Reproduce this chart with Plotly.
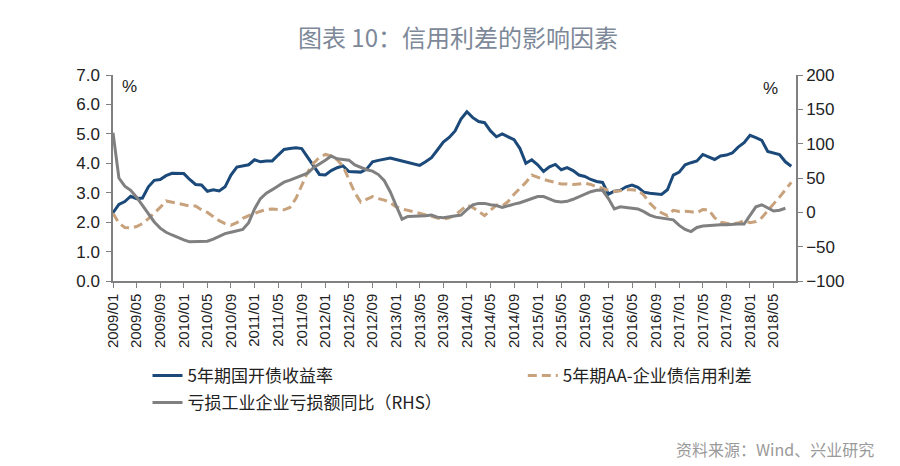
import plotly.graph_objects as go

# Monthly categories 2009/01 .. 2018/08
months = [f"{y}/{m:02d}" for y in range(2009, 2019) for m in range(1, 13)][:116]
tick_labels = [months[i] for i in range(0, 116, 4)]

cdb_5y = [2.32, 2.60, 2.70, 2.88, 2.80, 2.82, 3.20, 3.42, 3.45, 3.58,
          3.66, 3.66, 3.65, 3.45, 3.28, 3.26, 3.05, 3.10, 3.06, 3.20,
          3.60, 3.87, 3.90, 3.95, 4.12, 4.05, 4.08, 4.08, 4.28, 4.47,
          4.50, 4.53, 4.50, 4.20, 3.90, 3.62, 3.60, 3.75, 3.85, 3.91,
          3.72, 3.70, 3.70, 3.80, 4.05, 4.10, 4.13, 4.18, 4.13, 4.08,
          4.04, 3.98, 3.93, 4.05, 4.19, 4.45, 4.72, 4.88, 5.10, 5.50,
          5.75, 5.55, 5.42, 5.38, 5.10, 4.90, 5.00, 4.90, 4.80, 4.50,
          4.00, 4.12, 3.95, 3.72, 3.88, 3.96, 3.78, 3.85, 3.75, 3.60,
          3.55, 3.45, 3.38, 3.35, 2.95, 3.05, 3.08, 3.20, 3.26, 3.18,
          3.02, 2.98, 2.97, 2.94, 3.10, 3.60, 3.70, 3.95, 4.02, 4.08,
          4.30, 4.22, 4.13, 4.25, 4.28, 4.35, 4.55, 4.70, 4.95, 4.87,
          4.78, 4.40, 4.36, 4.30, 4.05, 3.90]

aa_spread = [2.30, 1.97, 1.82, 1.80, 1.85, 1.95, 2.12, 2.30, 2.50, 2.72,
             2.68, 2.65, 2.60, 2.55, 2.55, 2.42, 2.33, 2.18, 2.05, 1.95,
             1.90, 1.98, 2.13, 2.22, 2.30, 2.37, 2.43, 2.45, 2.43, 2.42,
             2.50, 2.80, 3.25, 3.70, 4.00, 4.20, 4.30, 4.25, 4.12, 3.90,
             3.45, 3.00, 2.68, 2.78, 2.87, 2.80, 2.75, 2.66, 2.52, 2.45,
             2.40, 2.36, 2.32, 2.27, 2.20, 2.14, 2.10, 2.15, 2.25, 2.40,
             2.58, 2.50, 2.35, 2.22, 2.40, 2.58, 2.55, 2.70, 2.95, 3.15,
             3.35, 3.60, 3.52, 3.45, 3.40, 3.35, 3.30, 3.30, 3.28, 3.30,
             3.32, 3.28, 3.20, 3.15, 3.08, 3.04, 3.07, 3.10, 3.10, 3.08,
             2.92, 2.65, 2.45, 2.32, 2.22, 2.40, 2.36, 2.37, 2.35, 2.32,
             2.43, 2.42, 2.15, 2.00, 1.96, 1.95, 1.97, 2.05, 1.98, 2.02,
             2.15, 2.40, 2.62, 2.85, 3.10, 3.35]

loss_yoy = [116, 50, 38, 32, 22, 10, -2, -14, -23, -29,
            -33, -37, -40, -43, -43, -43, -42, -39, -35, -31,
            -29, -27, -25, -15, 5, 20, 28, 33, 39, 44,
            47, 50, 53, 57, 65, 70, 76, 82, 78, 77,
            76, 69, 65, 62, 60, 55, 46, 30, 10, -10,
            -6, -6, -6, -5, -4, -7, -8, -7, -6, -4,
            4, 11, 13, 13, 11, 10, 7, 10, 12, 14,
            17, 21, 23, 23, 19, 16, 15, 16, 19, 23,
            27, 30, 32, 32, 20, 5, 8, 7, 7, 5,
            1, -4, -7, -8, -10, -11, -19, -25, -28, -22,
            -20, -19, -19, -18, -18, -17, -17, -17, -4, 8,
            11, 6, 2, 3, 6, None]

left_ticks = [0, 1, 2, 3, 4, 5, 6, 7]
left_labels = ["0.0", "1.0", "2.0", "3.0", "4.0", "5.0", "6.0", "7.0"]
right_ticks = [-100, -50, 0, 50, 100, 150, 200]

fig = go.Figure()
fig.add_trace(go.Scatter(x=months, y=cdb_5y, name="5年期国开债收益率", mode="lines",
                         line=dict(color="#1B4A7A", width=3), legend="legend"))
fig.add_trace(go.Scatter(x=months, y=aa_spread, name="5年期AA-企业债信用利差", mode="lines",
                         line=dict(color="#C8A27C", width=3, dash="9px,5px"), legend="legend2"))
fig.add_trace(go.Scatter(x=months, y=loss_yoy, name="亏损工业企业亏损额同比（RHS）", mode="lines",
                         line=dict(color="#808080", width=3), yaxis="y2", legend="legend3"))

axis_font = dict(family="Liberation Sans, Arial, sans-serif", size=17, color="#222")
leg_font = dict(family="Noto Sans CJK SC", size=17, color="#222")
common_leg = dict(xref="container", yref="container", xanchor="left", yanchor="middle",
                  font=leg_font, bgcolor="rgba(0,0,0,0)")
fig.update_layout(
    template="none",
    width=900, height=466,
    paper_bgcolor="white", plot_bgcolor="white",
    margin=dict(l=105, r=112, t=67, b=193, autoexpand=False),
    title=dict(text="图表 10：信用利差的影响因素", x=0.5, xanchor="center", y=1 - 31 / 466,
               yanchor="middle", xref="container", yref="container",
               font=dict(family="Noto Sans CJK SC", size=24, color="#7D8898")),
    xaxis=dict(type="category", range=[0, 115.8], tickmode="array", tickvals=tick_labels,
               ticktext=tick_labels, tickangle=-90, ticks="outside", ticklen=5,
               tickcolor="#808080", showline=True, linecolor="#808080", linewidth=1.5,
               showgrid=False, zeroline=False, automargin=False,
               tickfont=dict(family="Liberation Sans, Arial, sans-serif", size=15, color="#222")),
    yaxis=dict(range=[0, 7], tickvals=left_ticks, ticktext=left_labels, ticks="outside", ticklen=5,
               tickcolor="#808080", showline=True, linecolor="#808080", linewidth=1.5,
               showgrid=False, zeroline=False, tickfont=axis_font, automargin=False,
               ticklabelstandoff=3),
    yaxis2=dict(range=[-100, 200], tickvals=right_ticks, overlaying="y", side="right",
                ticks="outside", ticklen=5, tickcolor="#808080", showline=True,
                linecolor="#808080", linewidth=1.5, showgrid=False, zeroline=False,
                tickfont=axis_font, automargin=False),
    legend=dict(x=0.155, y=1 - 368 / 466, **common_leg),
    legend2=dict(x=0.572, y=1 - 368 / 466, **common_leg),
    legend3=dict(x=0.155, y=1 - 395 / 466, **common_leg),
    showlegend=True,
)
fig.add_annotation(text="%", xref="paper", yref="paper", x=(121 - 105) / 683, y=(273 - 78) / 206,
                   showarrow=False, xanchor="center", yanchor="middle",
                   font=dict(family="Liberation Sans, Arial", size=17, color="#222"))
fig.add_annotation(text="%", xref="paper", yref="paper", x=(762 - 105) / 683, y=(273 - 80) / 206,
                   showarrow=False, xanchor="center", yanchor="middle",
                   font=dict(family="Liberation Sans, Arial", size=17, color="#222"))
fig.add_annotation(text="资料来源：Wind、兴业研究", xref="paper", yref="paper",
                   x=(868 - 105) / 683, y=(273 - 441) / 206,
                   xanchor="right", yanchor="middle", showarrow=False,
                   font=dict(family="Noto Sans CJK SC", size=16, color="#9A9A9A"))

fig.write_html("out.html")
